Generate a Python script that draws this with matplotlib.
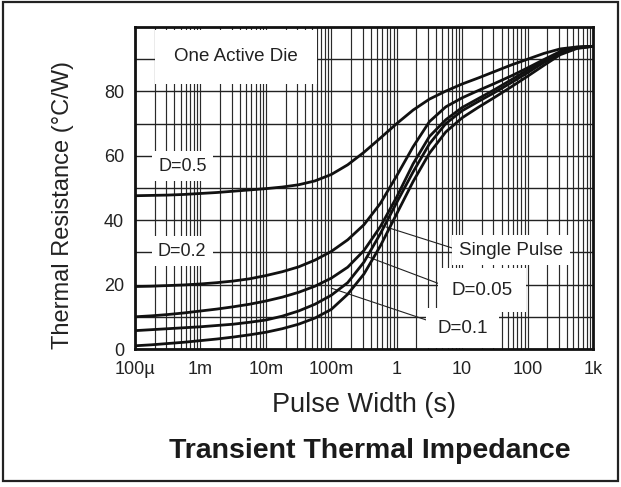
import matplotlib
matplotlib.use('Agg')

import numpy as np
from matplotlib import pyplot as plt
from matplotlib.patches import Rectangle
from matplotlib.ticker import LogLocator, FixedLocator, NullFormatter

plt.rcParams['font.family'] = ['Liberation Sans', 'DejaVu Sans']

# pulse width (s), quarter decades from 100u to 1k
pulse_width = [1e-4, 1.78e-4, 3.16e-4, 5.62e-4,
               1e-3, 1.78e-3, 3.16e-3, 5.62e-3,
               1e-2, 1.78e-2, 3.16e-2, 5.62e-2,
               0.1, 0.178, 0.316, 0.562,
               1, 1.78, 3.16, 5.62,
               10, 17.8, 31.6, 56.2,
               100, 178, 316, 562, 1000]

# thermal resistance (C/W)
d_05 = [47.6, 47.7, 47.8, 48.0,
        48.3, 48.6, 49.0, 49.4,
        49.8, 50.3, 51.0, 52.2,
        54.2, 57.2, 61.1, 65.5,
        70.0, 74.2, 77.6, 80.1,
        82.3, 84.2, 86.2, 88.2,
        90.0, 91.8, 93.2, 93.8, 94.0]
d_02 = [19.4, 19.5, 19.7, 19.9,
        20.2, 20.6, 21.1, 21.8,
        22.8, 24.0, 25.5, 27.6,
        30.3, 33.9, 38.6, 45.2,
        53.8, 62.8, 70.6, 75.2,
        78.0, 80.3, 82.5, 84.8,
        87.3, 89.9, 92.4, 93.7, 94.0]
d_01 = [10.0, 10.3, 10.7, 11.2,
        11.8, 12.4, 13.1, 13.9,
        14.9, 16.1, 17.6, 19.5,
        22.0, 25.4, 30.6, 38.0,
        47.2, 57.5, 66.0, 71.2,
        75.0, 77.8, 80.6, 83.6,
        86.6, 89.6, 92.2, 93.6, 94.0]
d_005 = [5.7, 6.0, 6.3, 6.6,
         6.9, 7.3, 7.7, 8.3,
         9.0, 10.2, 11.8, 13.9,
         16.7, 20.6, 27.0, 35.8,
         45.5, 55.0, 63.7, 70.0,
         74.0, 76.9, 79.7, 82.7,
         85.8, 89.0, 91.9, 93.5, 94.0]
single = [1.0, 1.3, 1.7, 2.1,
          2.6, 3.1, 3.7, 4.4,
          5.2, 6.3, 7.7, 9.6,
          12.3, 17.0, 23.3, 32.0,
          42.0, 52.0, 60.8, 67.4,
          71.8, 75.1, 78.2, 81.4,
          84.7, 88.1, 91.4, 93.3, 94.0]

x_ticks = [1e-4, 1e-3, 1e-2, 1e-1, 1, 10, 100, 1000]
x_labels = ['100\u00b5', '1m', '10m', '100m', '1', '10', '100', '1k']
y_ticks = [0, 20, 40, 60, 80]

fig = plt.figure(figsize=(6.21, 4.87), dpi=100)
ax = fig.add_axes([135 / 621, 1 - 349 / 487, 458 / 621, 322 / 487])

for vals in (d_05, d_02, d_01, d_005, single):
    ax.plot(pulse_width, vals, color='#111111', lw=2.0, zorder=4,
            solid_joinstyle='round')

ax.set_xscale('log')
ax.set_xlim(1e-4, 1e3)
ax.set_ylim(0, 100)
ax.set_xticks(x_ticks)
ax.set_xticklabels(x_labels)
ax.xaxis.set_minor_locator(LogLocator(base=10, subs=np.arange(2, 10), numticks=20))
ax.xaxis.set_minor_formatter(NullFormatter())
ax.set_yticks(y_ticks)
ax.yaxis.set_minor_locator(FixedLocator([10, 30, 50, 70, 90]))
ax.tick_params(which='both', length=0, labelsize=13, colors='#222222')
ax.tick_params(axis='x', pad=9)
ax.tick_params(axis='y', pad=8)

ax.grid(True, axis='x', which='both', color='#2a2a2a', lw=0.85)
ax.grid(True, axis='y', which='both', color='#222222', lw=1.0)
ax.set_axisbelow(True)
for s in ax.spines.values():
    s.set_linewidth(2)
    s.set_color('#111111')

box = dict(facecolor='white', edgecolor='none', boxstyle='square,pad=0.35')
ax.text(3.5e-3, 90.7, 'One Active Die', fontsize=13.5, ha='center', va='center',
        color='#222222', zorder=3,
        bbox=dict(facecolor='white', edgecolor='none', boxstyle='square,pad=1.0'))
ax.text(5.4e-4, 56.8, 'D=0.5', fontsize=13, ha='center', va='center', color='#222222',
        zorder=3, bbox=box)
ax.text(5.25e-4, 30.4, 'D=0.2', fontsize=13, ha='center', va='center', color='#222222',
        zorder=3, bbox=box)

lead = dict(arrowstyle='-', color='#222222', lw=0.8, shrinkA=0, shrinkB=0)
ax.annotate('Single Pulse', xy=(0.685, 37.9), xytext=(55.8, 30.7), fontsize=13.5,
            ha='center', va='center', color='#222222', zorder=3,
            bbox=box, arrowprops=dict(lead, relpos=(0, 0.5)))
ax.annotate('D=0.05', xy=(0.364, 28.6), xytext=(20.1, 18.3), fontsize=13.5,
            ha='center', va='center', color='#222222', zorder=3,
            bbox=dict(facecolor='white', edgecolor='none', boxstyle='square,pad=0.7'),
            arrowprops=dict(lead, relpos=(0, 0.6)))
ax.annotate('D=0.1', xy=(0.1, 18.9), xytext=(10.3, 6.5), fontsize=13.5,
            ha='center', va='center', color='#222222', zorder=3,
            bbox=dict(facecolor='white', edgecolor='none', boxstyle='square,pad=0.6'),
            arrowprops=dict(lead, relpos=(0, 0.75)))

fig.text(63 / 621, 1 - 205 / 487, 'Thermal Resistance (\u00b0C/W)', rotation=90,
         fontsize=17, ha='center', va='center', color='#222222')
fig.text(364 / 621, 1 - 405 / 487, 'Pulse Width (s)', fontsize=19.5,
         ha='center', va='center', color='#222222')
fig.text(370 / 621, 1 - 451 / 487, 'Transient Thermal Impedance', fontsize=20.5,
         fontweight='bold', ha='center', va='center', color='#1a1a1a')

fig.patches.append(Rectangle((3 / 621, 1 - 481 / 487), 615 / 621, 479 / 487,
                             transform=fig.transFigure, fill=False,
                             edgecolor='#222222', lw=1.6))

fig.savefig('out.png', dpi=100)
